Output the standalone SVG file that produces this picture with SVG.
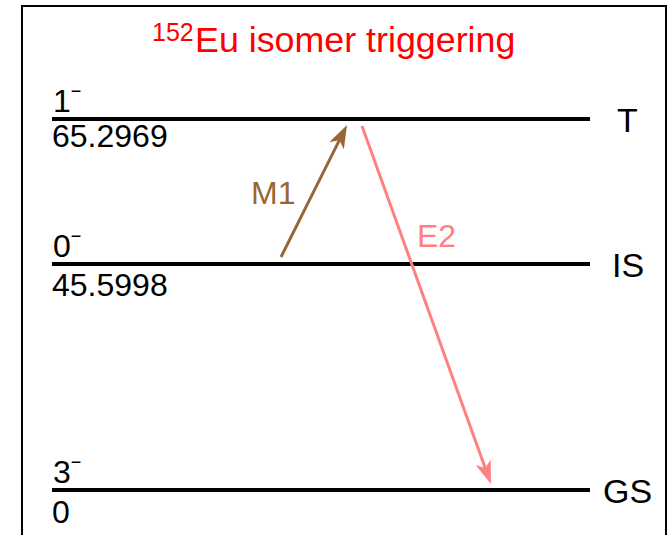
<svg xmlns="http://www.w3.org/2000/svg" width="668" height="535" viewBox="0 0 668 535">
<style>
  text { font-family: "Liberation Sans", Arial, sans-serif; }
  .lvl { stroke: #000; stroke-width: 4; }
  .num { font-size: 32px; fill: #000; }
  .tag { font-size: 34px; fill: #000; }
  .sup { font-size: 18px; }
</style>
<defs>
  <marker id="hM1" markerUnits="userSpaceOnUse" markerWidth="26" markerHeight="18" refX="6" refY="8" orient="auto" viewBox="0 0 26 18">
    <path d="M0,0 L23,8 L0,16 L6,8 z" fill="#996633"/>
  </marker>
  <marker id="hE2" markerUnits="userSpaceOnUse" markerWidth="26" markerHeight="18" refX="6" refY="8" orient="auto" viewBox="0 0 26 18">
    <path d="M0,0 L23,8 L0,16 L6,8 z" fill="#ff8080"/>
  </marker>
</defs>
<rect x="0" y="0" width="668" height="535" fill="#fff"/>
<rect x="22" y="6" width="644" height="540" fill="none" stroke="#000" stroke-width="2"/>
<g id="title">
  <text x="152" y="41" font-size="25" fill="#ff0000">152</text>
  <text x="195" y="52" font-size="35.8" fill="#ff0000">Eu isomer triggering</text>
</g>
<g id="level-T">
  <line class="lvl" x1="52" y1="119" x2="590" y2="119"/>
  <text class="num" x="53" y="112">1<tspan class="sup" dy="-15">−</tspan></text>
  <text class="num" x="52" y="147">65.2969</text>
  <text class="tag" x="617" y="132">T</text>
</g>
<g id="level-IS">
  <line class="lvl" x1="52" y1="264" x2="590" y2="264"/>
  <text class="num" x="53" y="257">0<tspan class="sup" dy="-15">−</tspan></text>
  <text class="num" x="52" y="296">45.5998</text>
  <text class="tag" x="612" y="277">IS</text>
</g>
<g id="level-GS">
  <line class="lvl" x1="52" y1="490" x2="590" y2="490"/>
  <text class="num" x="53" y="483">3<tspan class="sup" dy="-15">−</tspan></text>
  <text class="num" x="52" y="523">0</text>
  <text class="tag" x="603" y="503">GS</text>
</g>
<g id="connectors">
  <line x1="281" y1="257" x2="339.4" y2="140.2" stroke="#996633" stroke-width="3" marker-end="url(#hM1)"/>
  <line x1="362" y1="126" x2="485.2" y2="468" stroke="#ff8080" stroke-width="3" marker-end="url(#hE2)"/>
  <text x="251" y="204" font-size="32" fill="#996633">M1</text>
  <text x="417" y="247" font-size="32" fill="#ff8080">E2</text>
</g>
</svg>
